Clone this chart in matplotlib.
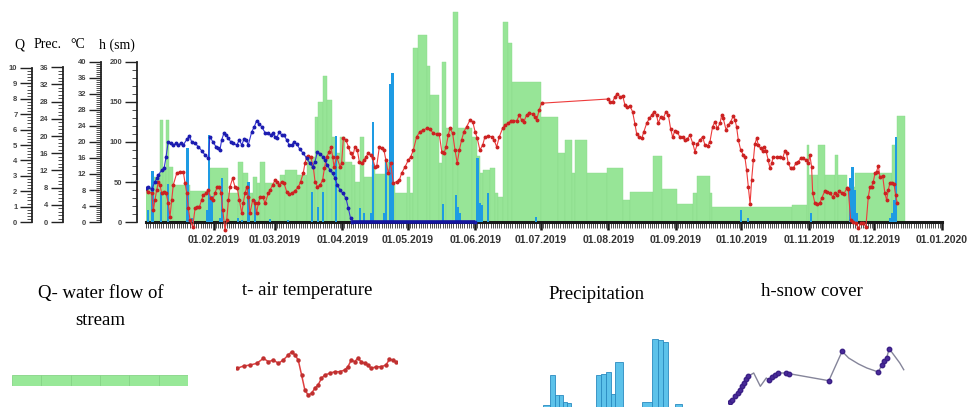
import matplotlib
matplotlib.use('Agg')
import matplotlib.pyplot as plt
import matplotlib.dates as mdates
from matplotlib.ticker import MultipleLocator, FixedLocator, NullFormatter
import numpy as np
from datetime import datetime

# ---------------- data (day offsets from 01.01.2019) ----------------
q_start = [0, 3, 6.4, 7.7, 9.2, 10.7, 12.5, 20.2, 29.3, 37.8, 42.3, 44.6, 47, 49.2, 50.7, 52.3,
           54.5, 61.4, 63.7, 69.1, 73.7, 77.5, 79, 81, 82.8, 85.1, 86.7, 89, 91.2, 94.3, 95.8,
           98.1, 100, 103.5, 105, 109.6, 111.9, 114.2, 119.5, 121, 122.6, 124.9, 128.7, 130.2,
           134.5, 135.6, 137.6, 141, 143.2, 149.3, 151.6, 153.1, 154.7, 157.7, 160, 161.5,
           163.8, 166.1, 167.7, 181, 189, 192.1, 195.2, 196.7, 202, 211.2, 218.9, 221.9, 232.6,
           236.4, 243.3, 251, 252.5, 258.6, 259.4, 296, 303, 304.1, 308.3, 311.3, 315.9, 317.4,
           321.3, 325.1, 341.9, 344.2]
q_end = 348
q_val = [2.3, 2.9, 6.6, 3.6, 6.6, 3.6, 2.4, 2.0, 3.5, 1.9, 3.9, 3.2, 1.9, 2.9, 2.5, 3.9,
         2.5, 3.05, 3.4, 3.05, 4.25, 6.85, 7.8, 9.45, 7.9, 5.5, 4.5, 5.55, 3.9, 3.7, 2.6,
         5.5, 2.9, 3.7, 3.1, 3.9, 2.5, 1.9, 2.9, 1.9, 11.3, 12.15, 10.1, 8.25,
         3.8, 10.4, 6.1, 13.65, 6.1, 5.55, 4.3, 3.2, 3.4, 3.5, 1.9, 1.65,
         13.0, 11.6, 9.1, 6.8, 4.5, 5.3, 3.2, 5.3, 3.2, 3.5, 1.45, 1.95, 4.3,
         2.15, 1.15, 1.9, 3.0, 1.9, 1.0, 1.1, 5.0, 3.05, 5.0, 3.05, 4.35, 3.05,
         2.3, 3.15, 5.0, 6.9]

p_day = [1, 3, 7, 10, 19, 21, 28, 29, 30, 34, 35, 42, 44, 47, 50, 57, 65, 76, 79, 81, 87, 98,
         100, 103, 104, 109, 110, 112, 113, 136, 142, 143, 144, 152, 153, 154, 157, 179, 273,
         276, 305, 323, 324, 325, 326, 341, 342, 343, 344]
p_val = [2.8, 11.9, 7.0, 8.8, 17.1, 1.0, 2.8, 20.2, 6.0, 1.0, 10.2, 1.0, 0.5, 9.4, 5.1, 0.8,
         0.5, 7.0, 3.6, 7.0, 20.0, 3.2, 2.0, 2.0, 23.3, 2.0, 14.4, 32.2, 34.6, 4.2, 6.3, 3.5,
         2.0, 14.8, 4.5, 4.0, 6.8, 1.2, 2.8, 1.0, 2.2, 10.2, 12.9, 7.4, 2.0, 1.0, 2.0, 5.1, 19.8]

t_day = [0, 1.1, 2.6, 3.4, 4.1, 4.9, 5.7, 6.4, 7.2, 8.3, 9.2, 10.2, 11.0, 11.8, 12.5, 14.1, 15.6,
         17.1, 17.9, 18.7, 19.4, 20.2, 21.4, 22.5, 23.2, 24.5, 25.5, 26.3, 27.5, 28.6, 29.7, 30.6,
         31.6, 32.7, 33.6, 34.4, 35.2, 36.2, 37.0, 37.8, 38.5, 39.7, 40.8, 41.9, 42.8, 43.9, 44.6,
         45.4, 46.2, 46.9, 47.7, 48.9, 50.0, 50.7, 51.5, 52.3, 53.5, 54.6, 56.1, 56.9, 58.1, 59.2,
         59.9, 61.1, 62.2, 63.3, 64.5, 65.7, 66.8, 68.3, 69.9, 70.9, 72.1, 72.9, 73.7, 74.4, 75.5,
         76.7, 77.5, 78.6, 79.8, 81.0, 81.8, 82.8, 84.1, 84.8, 85.6, 86.2, 87.4,
         89.0, 89.7, 90.5, 91.7, 92.8, 93.8, 94.8, 95.8, 96.9, 97.8, 98.9, 100.0, 100.9, 101.9,
         103.0, 103.9, 105.0, 105.8, 107.0, 108.1, 109.1, 110.0, 111.1, 112.2, 113.4, 114.9,
         116.2, 117.2, 118.8, 120.3, 121.4, 122.6, 124.1, 125.6, 127.2, 128.7, 130.2, 131.7,
         133.3, 134.5, 135.6, 136.6, 137.6, 138.6, 139.4, 140.6, 141.7, 142.7, 143.7, 144.7,
         145.8, 147.0, 148.6, 149.8, 150.9, 151.9, 153.1, 154.4, 155.4, 157.0, 158.5, 159.6,
         160.8, 162.0, 163.5, 164.6, 166.1, 167.2, 168.4, 170.0, 171.2, 172.2, 173.3, 174.5,
         175.8, 177.3, 178.4, 179.1, 180.3, 181.4,
         212.0, 212.7, 214.0, 215.0, 216.1, 217.3, 218.6, 219.6, 220.7, 221.9, 223.1, 224.2,
         225.0, 226.2, 227.3, 228.3, 229.6, 230.8, 231.9, 232.9, 234.1, 234.9, 236.0, 237.2,
         238.4, 239.5, 240.6, 241.5, 242.5, 243.6, 244.8, 246.1, 247.1, 248.2, 249.4, 250.7,
         251.7, 252.8, 254.0, 255.2, 256.3, 257.5, 258.6, 259.8, 260.9, 262.0, 263.2, 264.0,
         264.7, 266.0, 267.0, 268.1, 269.3, 270.1, 270.8, 271.6, 272.7,
         273.9, 274.6, 275.4, 276.2, 277.0, 277.7, 278.5, 279.2, 280.0, 280.8, 281.8, 282.7,
         283.5, 284.3, 285.3, 286.1, 286.9, 287.6, 289.2, 290.7, 291.9, 293.0, 293.7, 294.5,
         295.6, 296.8, 298.0, 299.1, 300.2, 301.4, 302.6, 303.7, 304.4, 305.2, 305.7, 306.7,
         307.8, 309.0, 309.8, 311.3, 312.4, 313.6, 314.8, 315.9, 317.0, 317.9, 319.0, 320.0,
         321.3, 322.0, 323.1, 324.3, 325.5, 326.6, 327.7, 328.9, 330.1, 331.2, 332.0, 332.7,
         333.5, 334.3, 335.0, 335.8, 336.5, 337.8, 338.8, 339.6, 340.4, 341.1, 342.3, 343.0,
         343.7, 344.5]
t_val = [8.25, 7.6, 7.2, 3.0, 5.5, 8.0, 10.1, 9.25, 7.2, 7.6, 7.2, 4.7, 1.3, 5.5, 9.25, 12.2, 12.6,
         12.6, 9.7, 7.2, 3.4, 0.5, -1.2, 3.4, 3.8, 3.8, 5.5, 6.75, 7.2, 8.0, 5.9, 5.5,
         7.2, 8.8, 8.8, 7.2, 3.0, -2.0, 0.5, 5.5, 8.8, 10.9, 8.8, 8.4, 5.5, 2.2, 4.7,
         7.2, 8.8, 6.3, 2.2, 5.5, 4.7, 2.2, 4.7, 6.3, 6.3, 4.7, 7.2, 8.0, 9.25, 10.5,
         10.1, 9.25, 10.1, 9.7, 7.6, 6.9, 7.2, 7.8, 8.8, 10.1, 12.2, 14.7, 16.3, 16.5, 16.3,
         13.8, 10.1, 8.8, 9.25, 10.5, 13.4, 16.3, 17.6, 18.8, 16.3, 13.8, 16.3,
         13.8, 14.7, 20.9, 20.5, 18.8, 17.2, 16.3, 18.8, 18.0, 15.1, 14.7, 15.5, 16.3, 17.2,
         16.75, 15.9, 13.8, 14.0, 18.8, 18.4, 18.0, 15.5, 12.2, 14.7, 9.7, 10.1,
         10.5, 12.2, 13.8, 15.5, 16.3, 18.0, 21.3, 22.6, 23.0, 23.4, 23.2, 22.2,
         21.9, 21.9, 17.6, 17.2, 18.8, 21.75, 23.4, 22.2, 18.0, 14.7, 18.0, 20.5,
         22.6, 23.8, 25.5, 25.1, 22.6, 20.9, 18.0, 19.25, 21.3, 21.5, 21.3, 20.5,
         18.8, 21.3, 23.4, 24.25, 24.7, 25.3, 25.3, 25.3, 26.75, 25.5, 25.1, 26.75,
         27.2, 27.0, 26.3, 25.5, 28.0, 29.7,
         30.75, 30.1, 30.1, 31.3, 32.0, 31.3, 31.5, 29.25, 28.7, 29.0, 27.6, 24.5,
         22.0, 21.3, 20.9, 22.6, 24.7, 25.9, 26.75, 27.6, 26.75, 24.7, 26.3, 25.9,
         27.6, 26.75, 23.2, 21.2, 22.8, 22.6, 21.2, 21.2, 20.5, 20.7, 21.75, 19.7,
         17.6, 19.5, 20.5, 21.3, 19.25, 19.0, 20.1, 23.8, 25.1, 23.4, 24.7, 26.75,
         25.9, 23.0, 24.25, 25.1, 26.5, 25.5, 23.8, 20.5, 18.0,
         16.75, 16.3, 13.0, 8.8, 4.5, 10.5, 15.5, 19.5, 20.9, 19.25, 18.4, 17.8,
         18.8, 17.8, 15.5, 13.4, 14.7, 16.2, 16.2, 16.3, 15.9, 17.8, 17.2, 14.7,
         13.4, 13.4, 14.7, 15.1, 15.9, 15.9, 15.5, 14.7, 16.75, 13.8, 7.2, 4.7,
         4.5, 4.7, 5.9, 7.8, 7.6, 7.3, 6.3, 7.2, 6.75, 7.8, 7.2, 7.0,
         8.4, 8.2, 0.5, 0.1, -0.3, -1.6, -0.3, -0.2, -1.2, 6.3, 8.8, 8.8,
         10.1, 12.2, 12.6, 14.1, 11.3, 11.5, 7.2, 5.5, 8.0, 9.8, 9.7, 9.5,
         6.75, 4.7]

h_day = [0, 1.1, 2.6, 4.1, 4.9, 5.7, 7.2, 8.3, 9.2, 10.2, 11.3, 12.5, 13.8, 14.8, 15.9, 17.1,
         18.7, 19.9, 20.9, 22.5, 24.0, 25.5, 27.1, 28.6, 29.3, 30.6, 32.1, 33.2, 33.9, 34.7,
         35.8, 36.7, 37.8, 38.8, 40.0, 41.6, 42.8, 43.9, 44.9, 45.9, 46.9, 48.5, 49.7, 50.7,
         52.0, 53.0, 54.6, 56.1, 57.2, 58.1, 59.2, 59.9, 61.1, 62.2, 63.3, 64.5, 65.7, 66.8,
         67.9, 69.1, 70.6, 72.1, 73.7, 75.2, 76.4, 77.5, 78.6, 79.8, 81.0, 82.1, 83.1, 84.4,
         85.6, 86.7, 87.7, 89.0, 90.2, 91.7, 92.8, 93.8, 94.3, 151]
h_val = [42.1, 43.3, 40.8, 50.4, 54.6, 58.8, 65.0, 67.1, 81.7, 100.4, 98.3, 96.25, 98.3, 96.25,
         98.3, 96.25, 103.3, 107.5, 100.4, 98.3, 94.2, 89.2, 83.75, 79.6, 106.7, 100.4, 94.2,
         92.1, 90.0, 102.5, 111.7, 108.75, 104.6, 100.4, 98.3, 96.25, 102.5, 96.25, 103.3,
         102.5, 96.25, 112.9, 119.2, 126.7, 122.5, 119.2, 111.7, 110.8, 108.75, 110.8, 106.7,
         104.6, 112.9, 108.75, 108.75, 102.5, 96.25, 96.25, 100.4, 97.5, 90.8, 85.8, 79.6,
         73.3, 69.2, 75.4, 87.9, 85.0, 81.7, 77.5, 71.25, 65.0, 60.8, 54.6, 46.25, 40.0, 35.8,
         29.6, 17.1, 4.6, 0, 0]

tick_dates = [datetime(2019, m, 1) for m in range(2, 13)] + [datetime(2020, 1, 1)]
tick_labels = [d.strftime('%d.%m.%Y') for d in tick_dates]

# legend sample glyphs
leg_q = [1, 1, 1, 1, 1, 1]
leg_t_x = [0, 6.6, 13.3, 20, 26.6, 31.6, 36.6, 41.6, 46.6, 51.6, 55, 58.3, 61.6, 65, 68.3, 71.6,
           75, 78.3, 81.6, 85, 88.3, 93.3, 98.3, 103.3, 108.3, 111.6, 115, 118.3, 121.6, 125,
           128.3, 131.6, 135, 140, 145, 150, 153.3, 156.6, 160]
leg_t_v = [31.7, 34, 35, 36.7, 41.7, 38.3, 40, 36.7, 40, 45, 48.3, 45, 40, 25, 10, 5, 6.7, 11.7,
           15, 21.7, 25, 26.7, 28.3, 28.3, 30, 33.3, 40, 38.3, 41.7, 38.3, 36.7, 35, 31.7, 33.3,
           33.3, 35, 40.7, 40, 38.3]
leg_p_x = [3, 10, 15, 19, 23, 27, 56, 61, 66, 71, 75, 102, 112, 118, 123, 135]
leg_p_w = [7, 5, 4, 4, 4, 4, 5, 5, 4.5, 4, 8, 10, 6, 5, 5, 7]
leg_p_v = [1.7, 31.7, 11.7, 11.7, 5, 4, 31.7, 33.3, 35, 13.3, 45, 5, 68.3, 66.7, 65, 3.3]
leg_h_x = [0, 2.4, 5, 7.7, 10, 12.4, 14.4, 16.7, 18.4, 24, 30.7, 36.7, 39, 42.4, 45.7, 48.4,
           56.7, 60, 100, 113.4, 120, 130, 138.4, 150, 153.4, 155.7, 158.4, 161, 166.7, 171.7, 175.7]
leg_h_v = [0, 2.3, 5.7, 9, 12.3, 15.7, 19, 23.3, 25.7, 29, 15.7, 24, 22.3, 24.7, 27.3, 29, 29,
           28.3, 21.3, 50.7, 44, 38, 34, 30, 36.7, 40.7, 44, 53.3, 45.7, 39, 32.3]
leg_h_mark = [0, 1, 2, 3, 4, 5, 6, 7, 8, 12, 13, 14, 15, 16, 17, 18, 19, 23, 24, 25, 26, 27]

# ---------------- layout ----------------
W, H = 973, 411
fig = plt.figure(figsize=(W / 100, H / 100), dpi=100)
fig.patch.set_facecolor('white')


def fx(px):
    return px / W


def fy(py):
    return (H - py) / H


base = mdates.date2num(datetime(2019, 1, 1))
xend = mdates.date2num(datetime(2020, 1, 1))

L, R, TOP, BOT, BASE = 146, 942, 5, 232, 222
SC_Q, SC_T, SC_P, SC_H = 15.4, 4.0, 4.3, 0.8   # pixels per unit


def lims(s):
    return (-(BOT - BASE) / s, (BASE - TOP) / s)


ax = fig.add_axes([fx(L), fy(BOT), (R - L) / W, (BOT - TOP) / H])
ax.set_xlim(base, xend)
ax.set_ylim(*lims(SC_Q))
ax.patch.set_alpha(0)

qs = np.array(q_start)
widths = np.diff(np.append(qs, q_end))
ax.bar(base + qs, q_val, width=widths, align='edge', color='#97E597', linewidth=0.3,
       edgecolor='#8AD98A', zorder=1)

for s in ['top', 'right', 'left']:
    ax.spines[s].set_visible(False)
ax.spines['bottom'].set_position(('data', 0))
ax.spines['bottom'].set_linewidth(2.2)
ax.spines['bottom'].set_color('#1a1a1a')
ax.set_yticks([])
ax.xaxis.set_major_locator(FixedLocator(mdates.date2num(tick_dates)))
ax.set_xticklabels(tick_labels)
ax.xaxis.set_minor_locator(MultipleLocator(1))
ax.xaxis.set_minor_formatter(NullFormatter())
ax.tick_params(axis='x', which='major', length=6, width=1.8, color='#1a1a1a', pad=3,
               labelsize=7.5, labelcolor='#333333')
ax.tick_params(axis='x', which='minor', length=4, width=0.6, color='#333333')
for lab in ax.get_xticklabels():
    lab.set_fontfamily('Liberation Sans')
    lab.set_fontweight('bold')

# precipitation
axp = ax.twinx()
axp.set_ylim(*lims(SC_P))
axp.axis('off')
axp.bar(base + np.array(p_day), p_val, width=1.0, color='#1E9BE3', linewidth=0, zorder=2)

# temperature
axt = ax.twinx()
axt.set_ylim(*lims(SC_T))
axt.axis('off')
axt.plot(base + np.array(t_day), t_val, color='#EE3B3B', lw=0.8, marker='o', ms=1.8,
         mfc='#CC2222', mec='#CC2222', zorder=3)

# snow
axh = ax.twinx()
axh.set_ylim(*lims(SC_H))
axh.axis('off')
hd = base + np.array(h_day)
hv = np.array(h_val)
axh.plot(hd, hv, color='#3535D5', lw=0.8, marker='o', ms=1.8, mfc='#1C1CB0', mec='#1C1CB0')
zero = hv == 0
axh.plot(hd[zero], hv[zero], color='#1515A0', lw=2.6, solid_capstyle='butt')

# ---------------- rulers ----------------
rulers = [
    (32, 10, 1, 0.2, SC_Q),
    (63, 36, 4, 0.8, SC_P),
    (101, 40, 4, 0.5, SC_T),
    (137, 200, 50, 10, SC_H),
]
for xpos, vmax, major, minor, s in rulers:
    r = fig.add_axes([fx(xpos), fy(BASE), 0.0005, vmax * s / H])
    r.set_ylim(0, vmax)
    r.patch.set_alpha(0)
    for sp in ['top', 'right', 'bottom']:
        r.spines[sp].set_visible(False)
    r.spines['left'].set_linewidth(1.3)
    r.spines['left'].set_color('#222222')
    r.set_xticks([])
    r.yaxis.set_major_locator(MultipleLocator(major))
    r.yaxis.set_minor_locator(MultipleLocator(minor))
    r.tick_params(axis='y', which='major', length=9, width=1.0, color='#222222',
                  labelsize=5.5, labelcolor='#444444', pad=1.5)
    r.tick_params(axis='y', which='minor', length=3.5, width=0.6, color='#333333')
    for lab in r.get_yticklabels():
        lab.set_fontfamily('Liberation Sans')
        lab.set_fontweight('bold')

serif = 'Liberation Serif'
for txt, xp in [('Q', 19), ('Prec.', 48), ('°C', 78), ('h (sm)', 117)]:
    fig.text(fx(xp), fy(45), txt, family=serif, fontsize=10, ha='center', va='center')

# ---------------- legend ----------------
fig.text(fx(101), fy(293), 'Q- water flow of', family=serif, fontsize=13.5, ha='center', va='center')
fig.text(fx(100), fy(320), 'stream', family=serif, fontsize=13.5, ha='center', va='center')
fig.text(fx(307), fy(290), 't- air temperature', family=serif, fontsize=13.5, ha='center', va='center')
fig.text(fx(597), fy(294), 'Precipitation', family=serif, fontsize=13.5, ha='center', va='center')
fig.text(fx(812), fy(291), 'h-snow cover', family=serif, fontsize=13.5, ha='center', va='center')

lq = fig.add_axes([fx(12), fy(386), 176 / W, 11 / H])
lq.bar(np.arange(len(leg_q)), leg_q, width=1.0, align='edge', color='#98E898',
       edgecolor='#86D486', linewidth=0.6)
lq.set_xlim(0, len(leg_q))
lq.set_ylim(0, 1)
lq.axis('off')

lt = fig.add_axes([fx(236), fy(400), 161 / W, 55 / H])
lt.plot(leg_t_x, leg_t_v, color='#E04040', lw=1.1, marker='o', ms=2.2, mfc='#C03030', mec='#C03030')
lt.set_xlim(-1, 161)
lt.set_ylim(0, 55)
lt.axis('off')

lp = fig.add_axes([fx(540), fy(407), 145 / W, 75 / H])
lp.bar(leg_p_x, leg_p_v, width=leg_p_w, align='edge', color='#5CC2EA', edgecolor='#2A8BC0',
       linewidth=0.6)
lp.set_xlim(0, 145)
lp.set_ylim(0, 75)
lp.axis('off')

lh = fig.add_axes([fx(728), fy(404), 178 / W, 60 / H])
lh.plot(leg_h_x, leg_h_v, color='#85859A', lw=1.0)
lh.plot(np.array(leg_h_x)[leg_h_mark], np.array(leg_h_v)[leg_h_mark], 'o', ms=3.2,
        color='#4A2B9A', mec='#3A1F85')
lh.set_xlim(-2, 178)
lh.set_ylim(-2, 58)
lh.axis('off')

fig.savefig('out.png', dpi=100, facecolor='white')
